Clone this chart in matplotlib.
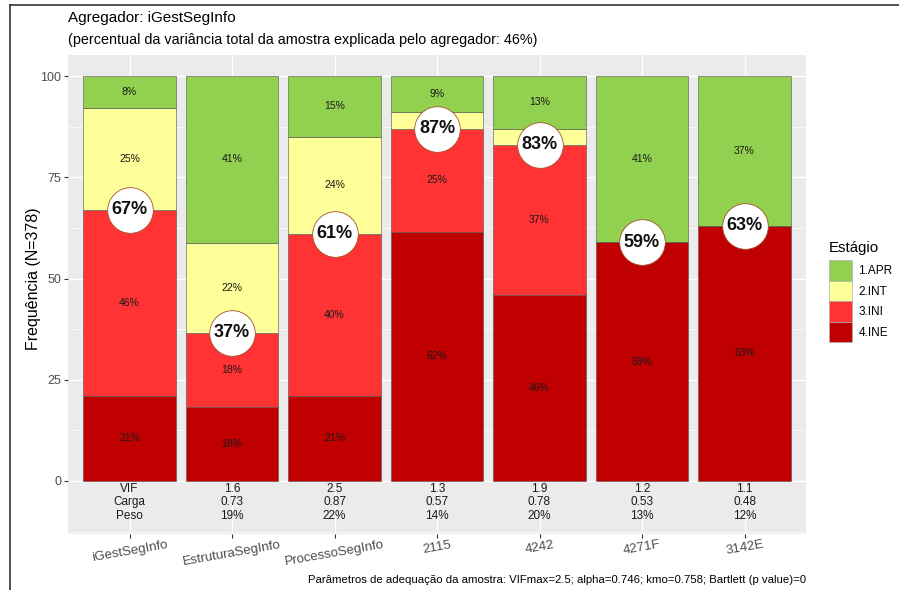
import numpy as np
import matplotlib
matplotlib.use("Agg")
import matplotlib.pyplot as plt
from matplotlib.patches import Patch
from matplotlib.lines import Line2D

plt.rcParams['font.family'] = ['Liberation Sans', 'DejaVu Sans']

# stage shares per indicator (%), stacked bottom -> top
categorias = ['iGestSegInfo', 'EstruturaSegInfo', 'ProcessoSegInfo', '2115', '4242', '4271F', '3142E']
ine = [21, 18.3, 21, 61.6, 45.9, 59, 63]
ini = [46, 18.3, 40, 25.4, 37.1, 0, 0]
inter = [25, 22.2, 24, 4, 4, 0, 0]
apr = [8, 41.2, 15, 9, 13, 41, 37]

# indicator parameters (first column holds the row names)
vif = [1.6, 2.5, 1.3, 1.9, 1.2, 1.1]
carga = [0.73, 0.87, 0.57, 0.78, 0.53, 0.48]
peso = [19, 22, 14, 20, 13, 12]

estagios = ['1.APR', '2.INT', '3.INI', '4.INE']
cores = {'1.APR': '#92D050', '2.INT': '#FFFF99', '3.INI': '#FF3333', '4.INE': '#C00000'}

titulo = 'Agregador: iGestSegInfo'
subtitulo = '(percentual da variância total da amostra explicada pelo agregador: 46%)'
rodape = 'Parâmetros de adequação da amostra: VIFmax=2.5; alpha=0.746; kmo=0.758; Bartlett (p value)=0'

fig = plt.figure(figsize=(8.99, 5.90), dpi=100)
ax = fig.add_axes([68 / 899, 1 - 534 / 590, (806 - 68) / 899, (534 - 55) / 590])
ax.set_facecolor('#EBEBEB')

x = np.arange(len(categorias))
camadas = [('4.INE', ine), ('3.INI', ini), ('2.INT', inter), ('1.APR', apr)]
base = np.zeros(len(categorias))
for nome, vals in camadas:
    vals = np.array(vals, dtype=float)
    ax.bar(x, vals, bottom=base, width=0.9, color=cores[nome],
           edgecolor='#505050', linewidth=0.4, zorder=2)
    for xi, b, v in zip(x, base, vals):
        if v >= 5:
            ax.text(xi, b + v / 2, f'{v:.0f}%', ha='center', va='center',
                    fontsize=7.5, color='#1a1a1a', zorder=3)
    base = base + vals

# circle marking the share in the two lowest stages
acum = np.array(ine) + np.array(ini)
ax.scatter(x, acum, s=1080, color='white', edgecolor='#A0522D', linewidth=0.6, zorder=4)
for xi, a in zip(x, acum):
    ax.text(xi, a, f'{a:.0f}%', ha='center', va='center', fontsize=13,
            fontweight='bold', color='#111111', zorder=5)

# parameter table under the bars
ax.text(x[0], -5.3, 'VIF\nCarga\nPeso', ha='center', va='center', fontsize=8.5,
        color='#1a1a1a', linespacing=1.15)
for xi, v, c, p in zip(x[1:], vif, carga, peso):
    ax.text(xi, -5.3, f'{v}\n{c:.2f}\n{p}%', ha='center', va='center', fontsize=8.5,
            color='#1a1a1a', linespacing=1.15)

ax.set_xlim(-0.6, len(categorias) - 0.4)
ax.set_ylim(-13.1, 105.2)
ax.set_yticks([0, 25, 50, 75, 100])
ax.set_yticks([-12.5, 12.5, 37.5, 62.5, 87.5], minor=True)
ax.set_xticks(x)
ax.set_xticklabels(categorias, rotation=10, fontsize=9.5, color='#4D4D4D')
ax.tick_params(axis='x', length=3, color='#333333', pad=0.5)
ax.tick_params(axis='y', which='major', length=3, color='#333333', labelsize=9, labelcolor='#4D4D4D', pad=2)
ax.tick_params(axis='y', which='minor', length=0)
ax.grid(which='major', color='white', linewidth=1.0, zorder=0)
ax.grid(which='minor', axis='y', color='white', linewidth=0.5, zorder=0)
ax.set_axisbelow(True)
for s in ax.spines.values():
    s.set_visible(False)
ax.set_ylabel('Frequência (N=378)', fontsize=11.5)
ax.yaxis.set_label_coords(-0.036, 0.532)

fig.text(68 / 899, 1 - 18 / 590, titulo, fontsize=11, va='center', ha='left')
fig.text(68 / 899, 1 - 40 / 590, subtitulo, fontsize=10.4, va='center', ha='left')
fig.text(806 / 899, 1 - 580 / 590, rodape, fontsize=8.2, va='center', ha='right')

handles = [Patch(facecolor=cores[e], edgecolor='#B0B0B0', linewidth=0.5) for e in estagios]
leg = fig.legend(handles, estagios, title='Estágio', loc='upper left',
                 bbox_to_anchor=(824 / 899, 1 - 236 / 590), frameon=False,
                 fontsize=8.5, title_fontsize=10.8, handlelength=2.0, handleheight=2.3,
                 labelspacing=0.0, handletextpad=0.5, borderaxespad=0)
leg._legend_box.align = 'left'
leg._legend_box.sep = 4

# screenshot frame (top and left edges)
fig.add_artist(Line2D([10 / 899, 10 / 899], [0, 1 - 5 / 590], color='#333333', linewidth=1.2))
fig.add_artist(Line2D([10 / 899, 1], [1 - 5 / 590, 1 - 5 / 590], color='#333333', linewidth=1.2))

fig.savefig('out.png', dpi=100)
